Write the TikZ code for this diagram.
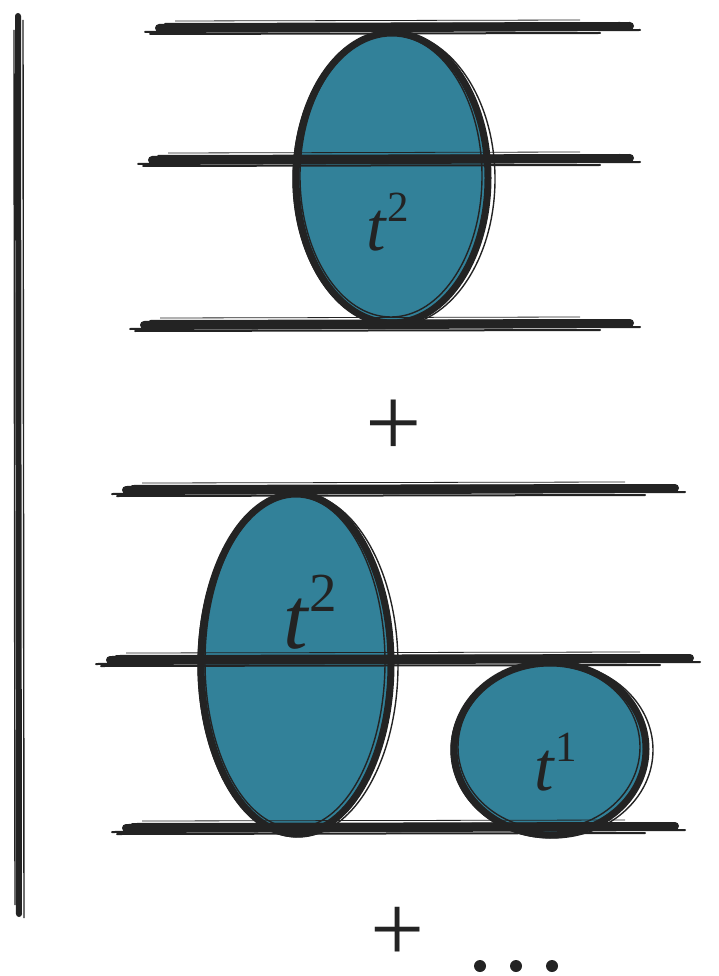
\documentclass[tikz,border=0pt]{standalone}
\usepackage{fontspec}
\setmainfont{Liberation Serif}
\definecolor{teal1}{RGB}{50,129,153}
\definecolor{ink}{RGB}{35,35,35}
\tikzset{
  brush/.style={draw=ink,line width=8pt,line cap=round},
  brushthin/.style={draw=ink,line width=2pt,line cap=round},
  rim/.style={draw=ink,line width=7pt},
  rimthin/.style={draw=ink,line width=1.4pt},
  lbl/.style={text=ink,inner sep=0pt},
}
\newcommand{\brushh}[3]{%
  \draw[brush] (#1+14,#3) -- (#2-10,#3-2);
  \draw[brushthin] (#1,#3+4) -- (#2,#3+2);
  \draw[brushthin] (#1+20,#3-4) -- (#2-20,#3-5);
  \draw[brushthin] (#1+5,#3+6) -- (#2-40,#3+5);
  \draw[ink,line width=0.8pt] (#1+30,#3-7) -- (#2-60,#3-8);
}
\newcommand{\blob}[4]{%
  \fill[teal1] (#1,#2) ellipse [x radius=#3, y radius=#4];
  \draw[rim] (#1,#2) ellipse [x radius=#3, y radius=#4];
  \draw[rimthin] (#1+2,#2+1) ellipse [x radius=#3+5, y radius=#4+2];
  \draw[rimthin] (#1-1,#2-2) ellipse [x radius=#3-5, y radius=#4-4];
}
\newcommand{\pw}[2]{\textit{t}\raisebox{0.42em}{\fontsize{#1}{#1}\selectfont #2}}
\begin{document}
\begin{tikzpicture}[x=1pt,y=-1pt]
\useasboundingbox (0,0) rectangle (719,976);
% left vertical stroke
\draw[ink,line width=6pt,line cap=round] (18,16) -- (19,914);
\draw[ink,line width=1.4pt] (14,30) -- (15,905);
\draw[ink,line width=1.4pt] (23,20) -- (24,918);
% top group
\blob{392}{178}{96}{145}
\brushh{145}{640}{28}
\brushh{138}{640}{160}
\brushh{130}{640}{325}
\node[lbl,font=\fontsize{70}{72}\selectfont] (ta) at (388,222) {\pw{43}{2}};
\node[lbl,font=\fontsize{100}{110}\selectfont] (plus1) at (394,428) {+};
% bottom group
\blob{296}{664}{95}{170}
\blob{550}{749}{96}{86}
\brushh{112}{685}{490}
\brushh{96}{700}{660}
\brushh{112}{685}{828}
\node[lbl,font=\fontsize{88}{90}\selectfont] (tb) at (310,612) {\pw{55}{2}};
\node[lbl,font=\fontsize{70}{72}\selectfont] (tc) at (556,762) {\pw{43}{1}};
\node[lbl,font=\fontsize{96}{100}\selectfont] (plus2) at (398,934) {+};
\foreach \i in {0,1,2} \fill[ink] (480+\i*36,966) circle (6);
\end{tikzpicture}
\end{document}
